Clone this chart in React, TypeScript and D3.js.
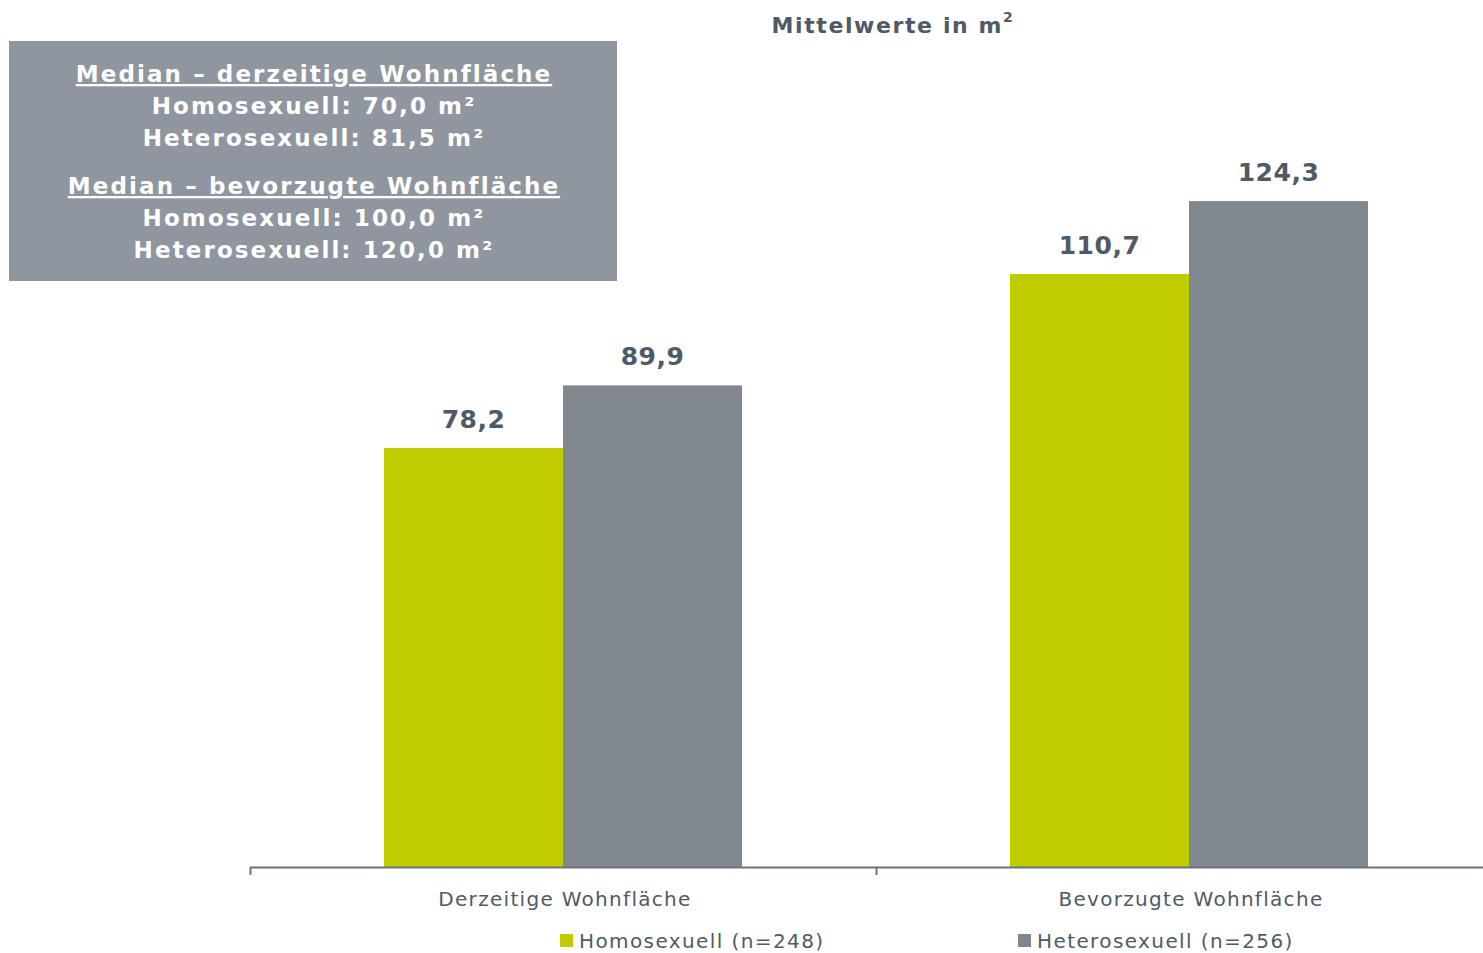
import React from "react";
import * as d3 from "d3";

const categories = ["Derzeitige Wohnfläche", "Bevorzugte Wohnfläche"];
const seriesNames = ["Homosexuell (n=248)", "Heterosexuell (n=256)"];
const homoValues = [78.2, 110.7];
const heteroValues = [89.9, 124.3];
const valueLabels = [["78,2", "89,9"], ["110,7", "124,3"]];
const boxLines = [
  { text: "Median – derzeitige Wohnfläche", head: true },
  { text: "Homosexuell: 70,0 m²", head: false },
  { text: "Heterosexuell: 81,5 m²", head: false },
  { text: "Median – bevorzugte Wohnfläche", head: true },
  { text: "Homosexuell: 100,0 m²", head: false },
  { text: "Heterosexuell: 120,0 m²", head: false },
];
const colors = ["#bfcc00", "#80878f"];

const W = 1483;
const H = 953;
const FONT = "'DejaVu Sans', Verdana, sans-serif";
const TXT = "#505a66";

export default function App() {
  const baseY = 867;
  const x0 = d3.scaleBand<string>().domain(categories).range([250, 1502]).padding(0);
  const x1 = d3
    .scaleBand<string>()
    .domain(seriesNames)
    .range([0, x0.bandwidth()])
    .paddingInner(0)
    .paddingOuter(0.7486);
  const y = d3.scaleLinear().domain([0, 140]).range([baseY, 117]);
  const data = categories.map((c, i) => ({ c, vals: [homoValues[i], heteroValues[i]] }));
  const boxBaselines = [82, 114, 146, 194, 226, 258];

  return (
    <div style={{ position: "absolute", left: 0, top: 0 }}>
      <svg width={W} height={H} style={{ display: "block", background: "#fff" }}>
        <text x={893} y={33} textAnchor="middle" fontFamily={FONT} fontWeight="bold" fontSize={22} letterSpacing={1.6} fill={TXT}>
          Mittelwerte in m
          <tspan fontSize={14} dy={-11}>2</tspan>
        </text>

        <rect x={9} y={41} width={608} height={240} fill="#8f969f" />
        {boxLines.map((l, i) => (
          <text
            key={i}
            x={314}
            y={boxBaselines[i]}
            textAnchor="middle"
            fontFamily={FONT}
            fontWeight="bold"
            fontSize={23}
            letterSpacing={2.1}
            fill="#ffffff"
            textDecoration={l.head ? "underline" : undefined}
          >
            {l.text}
          </text>
        ))}

        {data.map((d, i) => (
          <g key={d.c} transform={`translate(${x0(d.c)},0)`}>
            {d.vals.map((v, j) => (
              <g key={j}>
                <rect
                  x={x1(seriesNames[j])}
                  y={y(v)}
                  width={x1.bandwidth()}
                  height={baseY - y(v)}
                  fill={colors[j]}
                />
                <text
                  x={(x1(seriesNames[j]) as number) + x1.bandwidth() / 2}
                  y={y(v) - 20}
                  textAnchor="middle"
                  fontFamily={FONT}
                  fontWeight="bold"
                  fontSize={25}
                  letterSpacing={0.5}
                  fill={TXT}
                >
                  {valueLabels[i][j]}
                </text>
              </g>
            ))}
          </g>
        ))}

        <line x1={250} x2={W} y1={baseY + 0.5} y2={baseY + 0.5} stroke="#6b737d" strokeWidth={2} />
        {[...categories.map((c) => x0(c) as number), 1502].map((t, i) => (
          <line key={i} x1={t + 0.5} x2={t + 0.5} y1={baseY} y2={baseY + 8} stroke="#6b737d" strokeWidth={2} />
        ))}
        {categories.map((c) => (
          <text
            key={c}
            x={(x0(c) as number) + x0.bandwidth() / 2 + 2}
            y={906}
            textAnchor="middle"
            fontFamily={FONT}
            fontSize={20}
            letterSpacing={1.3}
            fill={TXT}
          >
            {c}
          </text>
        ))}

        {seriesNames.map((s, i) => {
          const lx = [560, 1018][i];
          return (
            <g key={s}>
              <rect x={lx} y={934} width={13} height={13} fill={colors[i]} />
              <text x={lx + 19} y={948} fontFamily={FONT} fontSize={20} letterSpacing={1.4} fill={TXT}>
                {s}
              </text>
            </g>
          );
        })}
      </svg>
    </div>
  );
}
